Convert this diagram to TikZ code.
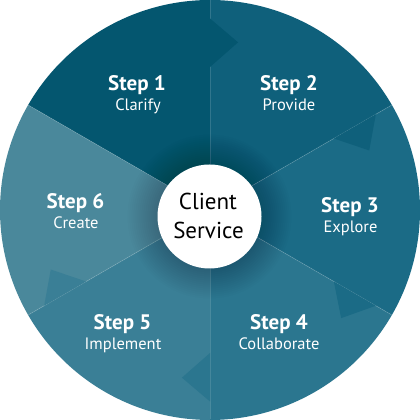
\documentclass[tikz,border=0pt]{standalone}
\usepackage{fontspec}
\setmainfont{PT Sans}
\usetikzlibrary{calc}
\definecolor{s1}{RGB}{4,86,111}
\definecolor{s2}{RGB}{15,96,123}
\definecolor{s3}{RGB}{27,107,134}
\definecolor{s4}{RGB}{43,118,143}
\definecolor{s5}{RGB}{58,127,150}
\definecolor{s6}{RGB}{74,136,155}
\tikzset{
  head/.style={text=white, anchor=base, inner sep=0pt, font=\fontsize{21}{25}\selectfont\bfseries},
  sub/.style={text=white, anchor=base, inner sep=0pt, font=\fontsize{16.5}{20}\selectfont},
  ctext/.style={text=black, anchor=base, inner sep=0pt, font=\fontsize{23}{28}\selectfont},
  seam/.style={white, opacity=0.14, line width=0.8pt},
}
\begin{document}
\begin{tikzpicture}[x=1pt,y=1pt]
\useasboundingbox (0,0) rectangle (420,420);
\fill[white] (0,0) rectangle (420,420);
\coordinate (O) at (210,210);
% sectors
\fill[s1] (O) -- ++(150:210) arc[start angle=150,end angle=90,radius=210] -- cycle;
\fill[s2] (O) -- ++(90:210) arc[start angle=90,end angle=30,radius=210] -- cycle;
\fill[s3] (O) -- ++(30:210) arc[start angle=30,end angle=-30,radius=210] -- cycle;
\fill[s4] (O) -- ++(-30:210) arc[start angle=-30,end angle=-90,radius=210] -- cycle;
\fill[s5] (O) -- ++(-90:210) arc[start angle=-90,end angle=-150,radius=210] -- cycle;
\fill[s6] (O) -- ++(210:210) arc[start angle=210,end angle=150,radius=210] -- cycle;
% seams
\foreach \a in {90,30,-30,-90,-150,150} \draw[seam] (O) -- ++(\a:209.5);
% arrow notches
\foreach \b/\c in {90/s1,30/s2,-30/s3,-90/s4,-150/s5}
  \fill[\c] ($(O)+(\b:143)$) -- ($(O)+(\b-9.5:170)$) -- ($(O)+(\b:191.5)$) -- cycle;
% shadow
\foreach \r in {54,56,...,82} \fill[black,opacity=0.012] (209.5,203.5) circle[radius=\r];
\node[circle, fill=white, minimum size=104pt, inner sep=0pt] (cs) at (209.5,203.5) {};
% labels
\node[ctext] (cl1) at (208,420-209.3) {Client};
\node[ctext] (cl2) at (208.5,420-238.3) {Service};
\node[head] (h1) at (137,420-90.7) {Step 1};
\node[sub] (t1) at (138,420-110.7) {Clarify};
\node[head] (h2) at (289,420-90.7) {Step 2};
\node[sub] (t2) at (289,420-110.7) {Provide};
\node[head] (h3) at (350,420-212.3) {Step 3};
\node[sub] (t3) at (350.5,420-232.3) {Explore};
\node[head] (h4) at (279,420-330) {Step 4};
\node[sub] (t4) at (279,420-349.5) {Collaborate};
\node[head] (h5) at (122.5,420-330) {Step 5};
\node[sub] (t5) at (123,420-349.5) {Implement};
\node[head] (h6) at (75.5,420-208.3) {Step 6};
\node[sub] (t6) at (76,420-228.3) {Create};
\end{tikzpicture}
\end{document}
